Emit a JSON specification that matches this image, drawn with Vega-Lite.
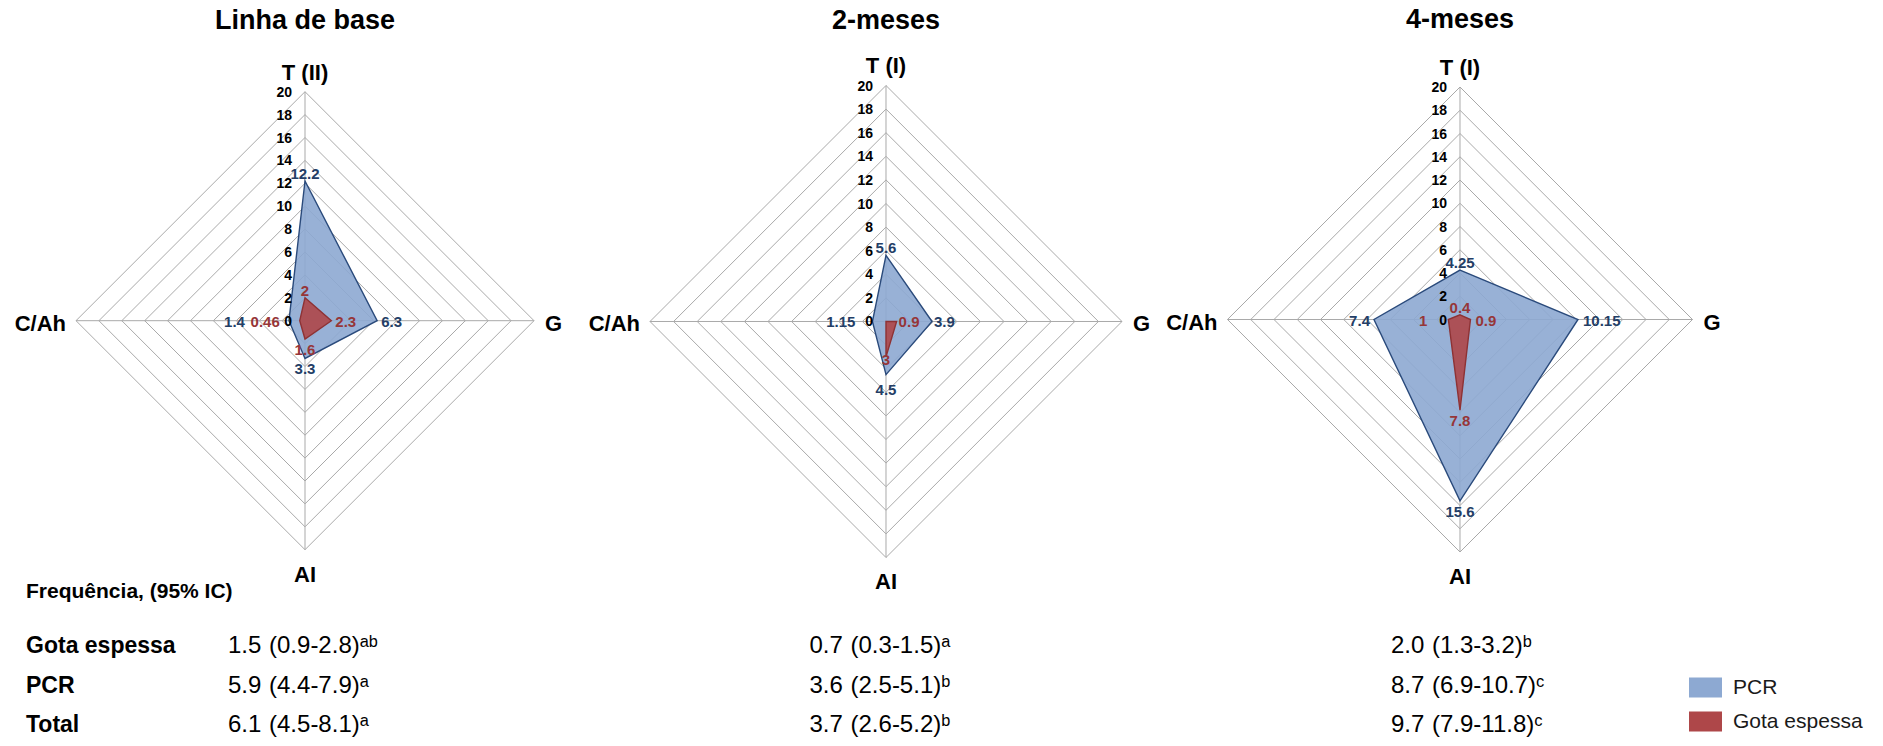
{
  "$schema": "https://vega.github.io/schema/vega-lite/v6.json",
  "width": 1883,
  "height": 746,
  "autosize": {"type": "fit", "contains": "padding"},
  "padding": 0,
  "background": "white",
  "config": {
    "view": {"stroke": null},
    "font": "Liberation Sans",
    "legend": {
      "orient": "none",
      "legendX": 1689,
      "legendY": 671,
      "symbolType": "M-1,-0.606H1V0.606H-1Z",
      "symbolSize": 1089,
      "symbolStrokeWidth": 0,
      "symbolOpacity": 1,
      "labelFontSize": 21,
      "labelColor": "#1a1a1a",
      "labelOffset": 11,
      "rowPadding": 7,
      "padding": 0
    }
  },
  "datasets": {
    "grid": [
      {"ax": "T", "v": [0, 2, 4, 6, 8, 10, 12, 14, 16, 18, 20]},
      {"ax": "G", "v": [0, 2, 4, 6, 8, 10, 12, 14, 16, 18, 20]},
      {"ax": "AI", "v": [0, 2, 4, 6, 8, 10, 12, 14, 16, 18, 20]},
      {"ax": "C/Ah", "v": [0, 2, 4, 6, 8, 10, 12, 14, 16, 18, 20]}
    ],
    "radar": [
      {"panel": "Linha de base", "series": "PCR", "ax": "T", "v": 12.2},
      {"panel": "Linha de base", "series": "PCR", "ax": "G", "v": 6.3},
      {"panel": "Linha de base", "series": "PCR", "ax": "AI", "v": 3.3},
      {"panel": "Linha de base", "series": "PCR", "ax": "C/Ah", "v": 1.4},
      {"panel": "Linha de base", "series": "Gota espessa", "ax": "T", "v": 2},
      {"panel": "Linha de base", "series": "Gota espessa", "ax": "G", "v": 2.3},
      {"panel": "Linha de base", "series": "Gota espessa", "ax": "AI", "v": 1.6},
      {"panel": "Linha de base", "series": "Gota espessa", "ax": "C/Ah", "v": 0.46},
      {"panel": "2-meses", "series": "PCR", "ax": "T", "v": 5.6},
      {"panel": "2-meses", "series": "PCR", "ax": "G", "v": 3.9},
      {"panel": "2-meses", "series": "PCR", "ax": "AI", "v": 4.5},
      {"panel": "2-meses", "series": "PCR", "ax": "C/Ah", "v": 1.15},
      {"panel": "2-meses", "series": "Gota espessa", "ax": "T", "v": 0},
      {"panel": "2-meses", "series": "Gota espessa", "ax": "G", "v": 0.9},
      {"panel": "2-meses", "series": "Gota espessa", "ax": "AI", "v": 3},
      {"panel": "2-meses", "series": "Gota espessa", "ax": "C/Ah", "v": 0},
      {"panel": "4-meses", "series": "PCR", "ax": "T", "v": 4.25},
      {"panel": "4-meses", "series": "PCR", "ax": "G", "v": 10.15},
      {"panel": "4-meses", "series": "PCR", "ax": "AI", "v": 15.6},
      {"panel": "4-meses", "series": "PCR", "ax": "C/Ah", "v": 7.4},
      {"panel": "4-meses", "series": "Gota espessa", "ax": "T", "v": 0.4},
      {"panel": "4-meses", "series": "Gota espessa", "ax": "G", "v": 0.9},
      {"panel": "4-meses", "series": "Gota espessa", "ax": "AI", "v": 7.8},
      {"panel": "4-meses", "series": "Gota espessa", "ax": "C/Ah", "v": 1}
    ],
    "axisNames": [
      {"panel": "Linha de base", "ax": "T", "name": "T (II)"},
      {"panel": "Linha de base", "ax": "G", "name": "G"},
      {"panel": "Linha de base", "ax": "AI", "name": "AI"},
      {"panel": "Linha de base", "ax": "C/Ah", "name": "C/Ah"},
      {"panel": "2-meses", "ax": "T", "name": "T (I)"},
      {"panel": "2-meses", "ax": "G", "name": "G"},
      {"panel": "2-meses", "ax": "AI", "name": "AI"},
      {"panel": "2-meses", "ax": "C/Ah", "name": "C/Ah"},
      {"panel": "4-meses", "ax": "T", "name": "T (I)"},
      {"panel": "4-meses", "ax": "G", "name": "G"},
      {"panel": "4-meses", "ax": "AI", "name": "AI"},
      {"panel": "4-meses", "ax": "C/Ah", "name": "C/Ah"}
    ],
    "titles": [
      {"panel": "Linha de base"},
      {"panel": "2-meses"},
      {"panel": "4-meses"}
    ],
    "stats": [
      {"period": "Linha de base", "row": "Gota espessa", "est": 1.5, "lo": 0.9, "hi": 2.8, "sup": "ab"},
      {"period": "Linha de base", "row": "PCR", "est": 5.9, "lo": 4.4, "hi": 7.9, "sup": "a"},
      {"period": "Linha de base", "row": "Total", "est": 6.1, "lo": 4.5, "hi": 8.1, "sup": "a"},
      {"period": "2-meses", "row": "Gota espessa", "est": 0.7, "lo": 0.3, "hi": 1.5, "sup": "a"},
      {"period": "2-meses", "row": "PCR", "est": 3.6, "lo": 2.5, "hi": 5.1, "sup": "b"},
      {"period": "2-meses", "row": "Total", "est": 3.7, "lo": 2.6, "hi": 5.2, "sup": "b"},
      {"period": "4-meses", "row": "Gota espessa", "est": 2.0, "lo": 1.3, "hi": 3.2, "sup": "b"},
      {"period": "4-meses", "row": "PCR", "est": 8.7, "lo": 6.9, "hi": 10.7, "sup": "c"},
      {"period": "4-meses", "row": "Total", "est": 9.7, "lo": 7.9, "hi": 11.8, "sup": "c"}
    ]
  },
  "resolve": {"scale": {"x": "independent", "y": "independent"}},
  "layer": [
    {
      "encoding": {
        "x": {"field": "x", "type": "quantitative", "scale": {"domain": [-26.638, 137.817], "nice": false, "zero": false}, "axis": null},
        "y": {"field": "y", "type": "quantitative", "scale": {"domain": [-37.144, 28.009], "nice": false, "zero": false}, "axis": null}
      },
      "layer": [
        {
          "data": {"name": "grid"},
          "transform": [
            {"flatten": ["v"]},
            {"filter": "datum.v > 0"},
            {"calculate": "datum.ax === 'G' ? datum.v : datum.ax === 'C/Ah' ? -datum.v : 0", "as": "x"},
            {"calculate": "datum.ax === 'T' ? datum.v : datum.ax === 'AI' ? -datum.v : 0", "as": "y"}
          ],
          "mark": {"type": "line", "interpolate": "linear-closed", "stroke": "#A9A9A9", "strokeWidth": 1},
          "encoding": {"detail": {"field": "v", "type": "quantitative"}, "order": {"value": null}}
        },
        {
          "data": {"name": "grid"},
          "transform": [
            {"flatten": ["v"]},
            {"filter": "datum.v === 20"},
            {"calculate": "datum.ax === 'G' ? datum.v : datum.ax === 'C/Ah' ? -datum.v : 0", "as": "x"},
            {"calculate": "datum.ax === 'T' ? datum.v : datum.ax === 'AI' ? -datum.v : 0", "as": "y"}
          ],
          "mark": {"type": "rule", "stroke": "#A9A9A9", "strokeWidth": 1},
          "encoding": {"x2": {"datum": 0}, "y2": {"datum": 0}}
        },
        {
          "data": {"name": "radar"},
          "transform": [
            {"filter": "datum.panel === 'Linha de base' && datum.series === 'PCR'"},
            {"calculate": "datum.ax === 'G' ? datum.v : datum.ax === 'C/Ah' ? -datum.v : 0", "as": "x"},
            {"calculate": "datum.ax === 'T' ? datum.v : datum.ax === 'AI' ? -datum.v : 0", "as": "y"}
          ],
          "mark": {"type": "line", "interpolate": "linear-closed", "filled": true, "fillOpacity": 0.9, "strokeWidth": 1.4},
          "encoding": {
            "color": {"field": "series", "type": "nominal", "scale": {"domain": ["PCR", "Gota espessa"], "range": ["#8DA9D2", "#AE4749"]}, "legend": {"title": null}},
            "stroke": {"field": "series", "type": "nominal", "scale": {"domain": ["PCR", "Gota espessa"], "range": ["#2A4A7B", "#8E3234"]}, "legend": null},
            "order": {"value": null}
          }
        },
        {
          "data": {"name": "radar"},
          "transform": [
            {"filter": "datum.panel === 'Linha de base' && datum.series === 'Gota espessa'"},
            {"calculate": "datum.ax === 'G' ? datum.v : datum.ax === 'C/Ah' ? -datum.v : 0", "as": "x"},
            {"calculate": "datum.ax === 'T' ? datum.v : datum.ax === 'AI' ? -datum.v : 0", "as": "y"}
          ],
          "mark": {"type": "line", "interpolate": "linear-closed", "filled": true, "fillOpacity": 0.9, "strokeWidth": 1.4},
          "encoding": {
            "color": {"field": "series", "type": "nominal", "scale": {"domain": ["PCR", "Gota espessa"], "range": ["#8DA9D2", "#AE4749"]}, "legend": {"title": null}},
            "stroke": {"field": "series", "type": "nominal", "scale": {"domain": ["PCR", "Gota espessa"], "range": ["#2A4A7B", "#8E3234"]}, "legend": null},
            "order": {"value": null}
          }
        },
        {
          "data": {"name": "grid"},
          "transform": [
            {"flatten": ["v"]},
            {"filter": "datum.ax === 'T'"},
            {"calculate": "0", "as": "x"},
            {"calculate": "datum.v", "as": "y"}
          ],
          "mark": {"type": "text", "align": "right", "baseline": "middle", "dx": -13, "dy": 1, "fontSize": 14, "fontWeight": "bold", "fill": "#000000"},
          "encoding": {"text": {"field": "v", "type": "quantitative"}}
        },
        {
          "data": {"name": "radar"},
          "transform": [
            {"filter": "datum.panel === 'Linha de base' && datum.ax === 'T' && datum.v > 0"},
            {"calculate": "0", "as": "x"},
            {"calculate": "datum.v", "as": "y"}
          ],
          "mark": {"type": "text", "align": "center", "baseline": "alphabetic", "dy": -2, "fontSize": 15, "fontWeight": "bold"},
          "encoding": {
            "text": {"field": "v", "type": "quantitative"},
            "fill": {"field": "series", "type": "nominal", "scale": {"domain": ["PCR", "Gota espessa"], "range": ["#243E66", "#963638"]}, "legend": null}
          }
        },
        {
          "data": {"name": "radar"},
          "transform": [
            {"filter": "datum.panel === 'Linha de base' && datum.ax === 'G' && datum.v > 0"},
            {"calculate": "datum.v", "as": "x"},
            {"calculate": "0", "as": "y"}
          ],
          "mark": {"type": "text", "align": "left", "baseline": "middle", "dx": 4, "dy": 1, "fontSize": 15, "fontWeight": "bold"},
          "encoding": {
            "text": {"field": "v", "type": "quantitative"},
            "fill": {"field": "series", "type": "nominal", "scale": {"domain": ["PCR", "Gota espessa"], "range": ["#243E66", "#963638"]}, "legend": null}
          }
        },
        {
          "data": {"name": "radar"},
          "transform": [
            {"filter": "datum.panel === 'Linha de base' && datum.ax === 'AI' && datum.v > 0"},
            {"calculate": "0", "as": "x"},
            {"calculate": "-datum.v", "as": "y"}
          ],
          "mark": {"type": "text", "align": "center", "baseline": "top", "dy": 4, "fontSize": 15, "fontWeight": "bold"},
          "encoding": {
            "text": {"field": "v", "type": "quantitative"},
            "fill": {"field": "series", "type": "nominal", "scale": {"domain": ["PCR", "Gota espessa"], "range": ["#243E66", "#963638"]}, "legend": null}
          }
        },
        {
          "data": {"name": "radar"},
          "transform": [
            {"filter": "datum.panel === 'Linha de base' && datum.ax === 'C/Ah' && datum.series === 'PCR' && datum.v > 0"},
            {"calculate": "-datum.v", "as": "x"},
            {"calculate": "0", "as": "y"}
          ],
          "mark": {"type": "text", "align": "right", "baseline": "middle", "dx": -44, "dy": 1, "fontSize": 15, "fontWeight": "bold", "fill": "#243E66"},
          "encoding": {"text": {"field": "v", "type": "quantitative"}}
        },
        {
          "data": {"name": "radar"},
          "transform": [
            {"filter": "datum.panel === 'Linha de base' && datum.ax === 'C/Ah' && datum.series === 'Gota espessa' && datum.v > 0"},
            {"calculate": "-datum.v", "as": "x"},
            {"calculate": "0", "as": "y"}
          ],
          "mark": {"type": "text", "align": "right", "baseline": "middle", "dx": -20, "dy": 1, "fontSize": 15, "fontWeight": "bold", "fill": "#963638"},
          "encoding": {"text": {"field": "v", "type": "quantitative"}}
        },
        {
          "data": {"name": "axisNames"},
          "transform": [{"filter": "datum.panel === 'Linha de base' && datum.ax === 'T'"}, {"calculate": "0", "as": "x"}, {"calculate": "20", "as": "y"}],
          "mark": {"type": "text", "align": "center", "baseline": "alphabetic", "dy": -12, "fontSize": 22, "fontWeight": "bold", "fill": "#000000"},
          "encoding": {"text": {"field": "name"}}
        },
        {
          "data": {"name": "axisNames"},
          "transform": [{"filter": "datum.panel === 'Linha de base' && datum.ax === 'G'"}, {"calculate": "20", "as": "x"}, {"calculate": "0", "as": "y"}],
          "mark": {"type": "text", "align": "left", "baseline": "middle", "dx": 11, "dy": 3, "fontSize": 22, "fontWeight": "bold", "fill": "#000000"},
          "encoding": {"text": {"field": "name"}}
        },
        {
          "data": {"name": "axisNames"},
          "transform": [{"filter": "datum.panel === 'Linha de base' && datum.ax === 'AI'"}, {"calculate": "0", "as": "x"}, {"calculate": "-20", "as": "y"}],
          "mark": {"type": "text", "align": "center", "baseline": "alphabetic", "dy": 32, "fontSize": 22, "fontWeight": "bold", "fill": "#000000"},
          "encoding": {"text": {"field": "name"}}
        },
        {
          "data": {"name": "axisNames"},
          "transform": [{"filter": "datum.panel === 'Linha de base' && datum.ax === 'C/Ah'"}, {"calculate": "-20", "as": "x"}, {"calculate": "0", "as": "y"}],
          "mark": {"type": "text", "align": "right", "baseline": "middle", "dx": -10, "dy": 3, "fontSize": 22, "fontWeight": "bold", "fill": "#000000"},
          "encoding": {"text": {"field": "name"}}
        },
        {
          "data": {"name": "titles"},
          "transform": [{"filter": "datum.panel === 'Linha de base'"}, {"calculate": "0", "as": "x"}, {"calculate": "20", "as": "y"}],
          "mark": {"type": "text", "align": "center", "baseline": "alphabetic", "dy": -63, "fontSize": 27, "fontWeight": "bold", "fill": "#000000"},
          "encoding": {"text": {"field": "panel"}}
        }
      ]
    },
    {
      "encoding": {
        "x": {"field": "x", "type": "quantitative", "scale": {"domain": [-75.085, 84.492], "nice": false, "zero": false}, "axis": null},
        "y": {"field": "y", "type": "quantitative", "scale": {"domain": [-35.975, 27.246], "nice": false, "zero": false}, "axis": null}
      },
      "layer": [
        {
          "data": {"name": "grid"},
          "transform": [
            {"flatten": ["v"]},
            {"filter": "datum.v > 0"},
            {"calculate": "datum.ax === 'G' ? datum.v : datum.ax === 'C/Ah' ? -datum.v : 0", "as": "x"},
            {"calculate": "datum.ax === 'T' ? datum.v : datum.ax === 'AI' ? -datum.v : 0", "as": "y"}
          ],
          "mark": {"type": "line", "interpolate": "linear-closed", "stroke": "#A9A9A9", "strokeWidth": 1},
          "encoding": {"detail": {"field": "v", "type": "quantitative"}, "order": {"value": null}}
        },
        {
          "data": {"name": "grid"},
          "transform": [
            {"flatten": ["v"]},
            {"filter": "datum.v === 20"},
            {"calculate": "datum.ax === 'G' ? datum.v : datum.ax === 'C/Ah' ? -datum.v : 0", "as": "x"},
            {"calculate": "datum.ax === 'T' ? datum.v : datum.ax === 'AI' ? -datum.v : 0", "as": "y"}
          ],
          "mark": {"type": "rule", "stroke": "#A9A9A9", "strokeWidth": 1},
          "encoding": {"x2": {"datum": 0}, "y2": {"datum": 0}}
        },
        {
          "data": {"name": "radar"},
          "transform": [
            {"filter": "datum.panel === '2-meses' && datum.series === 'PCR'"},
            {"calculate": "datum.ax === 'G' ? datum.v : datum.ax === 'C/Ah' ? -datum.v : 0", "as": "x"},
            {"calculate": "datum.ax === 'T' ? datum.v : datum.ax === 'AI' ? -datum.v : 0", "as": "y"}
          ],
          "mark": {"type": "line", "interpolate": "linear-closed", "filled": true, "fillOpacity": 0.9, "strokeWidth": 1.4},
          "encoding": {
            "color": {"field": "series", "type": "nominal", "scale": {"domain": ["PCR", "Gota espessa"], "range": ["#8DA9D2", "#AE4749"]}, "legend": {"title": null}},
            "stroke": {"field": "series", "type": "nominal", "scale": {"domain": ["PCR", "Gota espessa"], "range": ["#2A4A7B", "#8E3234"]}, "legend": null},
            "order": {"value": null}
          }
        },
        {
          "data": {"name": "radar"},
          "transform": [
            {"filter": "datum.panel === '2-meses' && datum.series === 'Gota espessa'"},
            {"calculate": "datum.ax === 'G' ? datum.v : datum.ax === 'C/Ah' ? -datum.v : 0", "as": "x"},
            {"calculate": "datum.ax === 'T' ? datum.v : datum.ax === 'AI' ? -datum.v : 0", "as": "y"}
          ],
          "mark": {"type": "line", "interpolate": "linear-closed", "filled": true, "fillOpacity": 0.9, "strokeWidth": 1.4},
          "encoding": {
            "color": {"field": "series", "type": "nominal", "scale": {"domain": ["PCR", "Gota espessa"], "range": ["#8DA9D2", "#AE4749"]}, "legend": {"title": null}},
            "stroke": {"field": "series", "type": "nominal", "scale": {"domain": ["PCR", "Gota espessa"], "range": ["#2A4A7B", "#8E3234"]}, "legend": null},
            "order": {"value": null}
          }
        },
        {
          "data": {"name": "grid"},
          "transform": [
            {"flatten": ["v"]},
            {"filter": "datum.ax === 'T'"},
            {"calculate": "0", "as": "x"},
            {"calculate": "datum.v", "as": "y"}
          ],
          "mark": {"type": "text", "align": "right", "baseline": "middle", "dx": -13, "dy": 1, "fontSize": 14, "fontWeight": "bold", "fill": "#000000"},
          "encoding": {"text": {"field": "v", "type": "quantitative"}}
        },
        {
          "data": {"name": "radar"},
          "transform": [
            {"filter": "datum.panel === '2-meses' && datum.ax === 'T' && datum.v > 0"},
            {"calculate": "0", "as": "x"},
            {"calculate": "datum.v", "as": "y"}
          ],
          "mark": {"type": "text", "align": "center", "baseline": "alphabetic", "dy": -2, "fontSize": 15, "fontWeight": "bold"},
          "encoding": {
            "text": {"field": "v", "type": "quantitative"},
            "fill": {"field": "series", "type": "nominal", "scale": {"domain": ["PCR", "Gota espessa"], "range": ["#243E66", "#963638"]}, "legend": null}
          }
        },
        {
          "data": {"name": "radar"},
          "transform": [
            {"filter": "datum.panel === '2-meses' && datum.ax === 'G' && datum.v > 0"},
            {"calculate": "datum.v", "as": "x"},
            {"calculate": "0", "as": "y"}
          ],
          "mark": {"type": "text", "align": "left", "baseline": "middle", "dx": 2, "dy": 1, "fontSize": 15, "fontWeight": "bold"},
          "encoding": {
            "text": {"field": "v", "type": "quantitative"},
            "fill": {"field": "series", "type": "nominal", "scale": {"domain": ["PCR", "Gota espessa"], "range": ["#243E66", "#963638"]}, "legend": null}
          }
        },
        {
          "data": {"name": "radar"},
          "transform": [
            {"filter": "datum.panel === '2-meses' && datum.ax === 'AI' && datum.series === 'PCR' && datum.v > 0"},
            {"calculate": "0", "as": "x"},
            {"calculate": "-datum.v", "as": "y"}
          ],
          "mark": {"type": "text", "align": "center", "baseline": "top", "dy": 8, "fontSize": 15, "fontWeight": "bold", "fill": "#243E66"},
          "encoding": {"text": {"field": "v", "type": "quantitative"}}
        },
        {
          "data": {"name": "radar"},
          "transform": [
            {"filter": "datum.panel === '2-meses' && datum.ax === 'AI' && datum.series === 'Gota espessa' && datum.v > 0"},
            {"calculate": "0", "as": "x"},
            {"calculate": "-datum.v", "as": "y"}
          ],
          "mark": {"type": "text", "align": "center", "baseline": "top", "dy": -4, "fontSize": 15, "fontWeight": "bold", "fill": "#963638"},
          "encoding": {"text": {"field": "v", "type": "quantitative"}}
        },
        {
          "data": {"name": "radar"},
          "transform": [
            {"filter": "datum.panel === '2-meses' && datum.ax === 'C/Ah' && datum.v > 0"},
            {"calculate": "-datum.v", "as": "x"},
            {"calculate": "0", "as": "y"}
          ],
          "mark": {"type": "text", "align": "right", "baseline": "middle", "dx": -17, "dy": 1, "fontSize": 15, "fontWeight": "bold"},
          "encoding": {
            "text": {"field": "v", "type": "quantitative"},
            "fill": {"field": "series", "type": "nominal", "scale": {"domain": ["PCR", "Gota espessa"], "range": ["#243E66", "#963638"]}, "legend": null}
          }
        },
        {
          "data": {"name": "axisNames"},
          "transform": [{"filter": "datum.panel === '2-meses' && datum.ax === 'T'"}, {"calculate": "0", "as": "x"}, {"calculate": "20", "as": "y"}],
          "mark": {"type": "text", "align": "center", "baseline": "alphabetic", "dy": -13, "fontSize": 22, "fontWeight": "bold", "fill": "#000000"},
          "encoding": {"text": {"field": "name"}}
        },
        {
          "data": {"name": "axisNames"},
          "transform": [{"filter": "datum.panel === '2-meses' && datum.ax === 'G'"}, {"calculate": "20", "as": "x"}, {"calculate": "0", "as": "y"}],
          "mark": {"type": "text", "align": "left", "baseline": "middle", "dx": 11, "dy": 3, "fontSize": 22, "fontWeight": "bold", "fill": "#000000"},
          "encoding": {"text": {"field": "name"}}
        },
        {
          "data": {"name": "axisNames"},
          "transform": [{"filter": "datum.panel === '2-meses' && datum.ax === 'AI'"}, {"calculate": "0", "as": "x"}, {"calculate": "-20", "as": "y"}],
          "mark": {"type": "text", "align": "center", "baseline": "alphabetic", "dy": 32, "fontSize": 22, "fontWeight": "bold", "fill": "#000000"},
          "encoding": {"text": {"field": "name"}}
        },
        {
          "data": {"name": "axisNames"},
          "transform": [{"filter": "datum.panel === '2-meses' && datum.ax === 'C/Ah'"}, {"calculate": "-20", "as": "x"}, {"calculate": "0", "as": "y"}],
          "mark": {"type": "text", "align": "right", "baseline": "middle", "dx": -10, "dy": 3, "fontSize": 22, "fontWeight": "bold", "fill": "#000000"},
          "encoding": {"text": {"field": "name"}}
        },
        {
          "data": {"name": "titles"},
          "transform": [{"filter": "datum.panel === '2-meses'"}, {"calculate": "0", "as": "x"}, {"calculate": "20", "as": "y"}],
          "mark": {"type": "text", "align": "center", "baseline": "alphabetic", "dy": -57, "fontSize": 27, "fontWeight": "bold", "fill": "#000000"},
          "encoding": {"text": {"field": "panel"}}
        }
      ]
    },
    {
      "encoding": {
        "x": {"field": "x", "type": "quantitative", "scale": {"domain": [-125.591, 36.387], "nice": false, "zero": false}, "axis": null},
        "y": {"field": "y", "type": "quantitative", "scale": {"domain": [-36.688, 27.484], "nice": false, "zero": false}, "axis": null}
      },
      "layer": [
        {
          "data": {"name": "grid"},
          "transform": [
            {"flatten": ["v"]},
            {"filter": "datum.v > 0"},
            {"calculate": "datum.ax === 'G' ? datum.v : datum.ax === 'C/Ah' ? -datum.v : 0", "as": "x"},
            {"calculate": "datum.ax === 'T' ? datum.v : datum.ax === 'AI' ? -datum.v : 0", "as": "y"}
          ],
          "mark": {"type": "line", "interpolate": "linear-closed", "stroke": "#A9A9A9", "strokeWidth": 1},
          "encoding": {"detail": {"field": "v", "type": "quantitative"}, "order": {"value": null}}
        },
        {
          "data": {"name": "grid"},
          "transform": [
            {"flatten": ["v"]},
            {"filter": "datum.v === 20"},
            {"calculate": "datum.ax === 'G' ? datum.v : datum.ax === 'C/Ah' ? -datum.v : 0", "as": "x"},
            {"calculate": "datum.ax === 'T' ? datum.v : datum.ax === 'AI' ? -datum.v : 0", "as": "y"}
          ],
          "mark": {"type": "rule", "stroke": "#A9A9A9", "strokeWidth": 1},
          "encoding": {"x2": {"datum": 0}, "y2": {"datum": 0}}
        },
        {
          "data": {"name": "radar"},
          "transform": [
            {"filter": "datum.panel === '4-meses' && datum.series === 'PCR'"},
            {"calculate": "datum.ax === 'G' ? datum.v : datum.ax === 'C/Ah' ? -datum.v : 0", "as": "x"},
            {"calculate": "datum.ax === 'T' ? datum.v : datum.ax === 'AI' ? -datum.v : 0", "as": "y"}
          ],
          "mark": {"type": "line", "interpolate": "linear-closed", "filled": true, "fillOpacity": 0.9, "strokeWidth": 1.4},
          "encoding": {
            "color": {"field": "series", "type": "nominal", "scale": {"domain": ["PCR", "Gota espessa"], "range": ["#8DA9D2", "#AE4749"]}, "legend": {"title": null}},
            "stroke": {"field": "series", "type": "nominal", "scale": {"domain": ["PCR", "Gota espessa"], "range": ["#2A4A7B", "#8E3234"]}, "legend": null},
            "order": {"value": null}
          }
        },
        {
          "data": {"name": "radar"},
          "transform": [
            {"filter": "datum.panel === '4-meses' && datum.series === 'Gota espessa'"},
            {"calculate": "datum.ax === 'G' ? datum.v : datum.ax === 'C/Ah' ? -datum.v : 0", "as": "x"},
            {"calculate": "datum.ax === 'T' ? datum.v : datum.ax === 'AI' ? -datum.v : 0", "as": "y"}
          ],
          "mark": {"type": "line", "interpolate": "linear-closed", "filled": true, "fillOpacity": 0.9, "strokeWidth": 1.4},
          "encoding": {
            "color": {"field": "series", "type": "nominal", "scale": {"domain": ["PCR", "Gota espessa"], "range": ["#8DA9D2", "#AE4749"]}, "legend": {"title": null}},
            "stroke": {"field": "series", "type": "nominal", "scale": {"domain": ["PCR", "Gota espessa"], "range": ["#2A4A7B", "#8E3234"]}, "legend": null},
            "order": {"value": null}
          }
        },
        {
          "data": {"name": "grid"},
          "transform": [
            {"flatten": ["v"]},
            {"filter": "datum.ax === 'T'"},
            {"calculate": "0", "as": "x"},
            {"calculate": "datum.v", "as": "y"}
          ],
          "mark": {"type": "text", "align": "right", "baseline": "middle", "dx": -13, "dy": 1, "fontSize": 14, "fontWeight": "bold", "fill": "#000000"},
          "encoding": {"text": {"field": "v", "type": "quantitative"}}
        },
        {
          "data": {"name": "radar"},
          "transform": [
            {"filter": "datum.panel === '4-meses' && datum.ax === 'T' && datum.v > 0"},
            {"calculate": "0", "as": "x"},
            {"calculate": "datum.v", "as": "y"}
          ],
          "mark": {"type": "text", "align": "center", "baseline": "alphabetic", "dy": -2, "fontSize": 15, "fontWeight": "bold"},
          "encoding": {
            "text": {"field": "v", "type": "quantitative"},
            "fill": {"field": "series", "type": "nominal", "scale": {"domain": ["PCR", "Gota espessa"], "range": ["#243E66", "#963638"]}, "legend": null}
          }
        },
        {
          "data": {"name": "radar"},
          "transform": [
            {"filter": "datum.panel === '4-meses' && datum.ax === 'G' && datum.v > 0"},
            {"calculate": "datum.v", "as": "x"},
            {"calculate": "0", "as": "y"}
          ],
          "mark": {"type": "text", "align": "left", "baseline": "middle", "dx": 5, "dy": 1, "fontSize": 15, "fontWeight": "bold"},
          "encoding": {
            "text": {"field": "v", "type": "quantitative"},
            "fill": {"field": "series", "type": "nominal", "scale": {"domain": ["PCR", "Gota espessa"], "range": ["#243E66", "#963638"]}, "legend": null}
          }
        },
        {
          "data": {"name": "radar"},
          "transform": [
            {"filter": "datum.panel === '4-meses' && datum.ax === 'AI' && datum.v > 0"},
            {"calculate": "0", "as": "x"},
            {"calculate": "-datum.v", "as": "y"}
          ],
          "mark": {"type": "text", "align": "center", "baseline": "top", "dy": 4, "fontSize": 15, "fontWeight": "bold"},
          "encoding": {
            "text": {"field": "v", "type": "quantitative"},
            "fill": {"field": "series", "type": "nominal", "scale": {"domain": ["PCR", "Gota espessa"], "range": ["#243E66", "#963638"]}, "legend": null}
          }
        },
        {
          "data": {"name": "radar"},
          "transform": [
            {"filter": "datum.panel === '4-meses' && datum.ax === 'C/Ah' && datum.series === 'PCR' && datum.v > 0"},
            {"calculate": "-datum.v", "as": "x"},
            {"calculate": "0", "as": "y"}
          ],
          "mark": {"type": "text", "align": "right", "baseline": "middle", "dx": -4, "dy": 1, "fontSize": 15, "fontWeight": "bold", "fill": "#243E66"},
          "encoding": {"text": {"field": "v", "type": "quantitative"}}
        },
        {
          "data": {"name": "radar"},
          "transform": [
            {"filter": "datum.panel === '4-meses' && datum.ax === 'C/Ah' && datum.series === 'Gota espessa' && datum.v > 0"},
            {"calculate": "-datum.v", "as": "x"},
            {"calculate": "0", "as": "y"}
          ],
          "mark": {"type": "text", "align": "right", "baseline": "middle", "dx": -21, "dy": 1, "fontSize": 15, "fontWeight": "bold", "fill": "#963638"},
          "encoding": {"text": {"field": "v", "type": "quantitative"}}
        },
        {
          "data": {"name": "axisNames"},
          "transform": [{"filter": "datum.panel === '4-meses' && datum.ax === 'T'"}, {"calculate": "0", "as": "x"}, {"calculate": "20", "as": "y"}],
          "mark": {"type": "text", "align": "center", "baseline": "alphabetic", "dy": -12, "fontSize": 22, "fontWeight": "bold", "fill": "#000000"},
          "encoding": {"text": {"field": "name"}}
        },
        {
          "data": {"name": "axisNames"},
          "transform": [{"filter": "datum.panel === '4-meses' && datum.ax === 'G'"}, {"calculate": "20", "as": "x"}, {"calculate": "0", "as": "y"}],
          "mark": {"type": "text", "align": "left", "baseline": "middle", "dx": 11, "dy": 3, "fontSize": 22, "fontWeight": "bold", "fill": "#000000"},
          "encoding": {"text": {"field": "name"}}
        },
        {
          "data": {"name": "axisNames"},
          "transform": [{"filter": "datum.panel === '4-meses' && datum.ax === 'AI'"}, {"calculate": "0", "as": "x"}, {"calculate": "-20", "as": "y"}],
          "mark": {"type": "text", "align": "center", "baseline": "alphabetic", "dy": 32, "fontSize": 22, "fontWeight": "bold", "fill": "#000000"},
          "encoding": {"text": {"field": "name"}}
        },
        {
          "data": {"name": "axisNames"},
          "transform": [{"filter": "datum.panel === '4-meses' && datum.ax === 'C/Ah'"}, {"calculate": "-20", "as": "x"}, {"calculate": "0", "as": "y"}],
          "mark": {"type": "text", "align": "right", "baseline": "middle", "dx": -10, "dy": 3, "fontSize": 22, "fontWeight": "bold", "fill": "#000000"},
          "encoding": {"text": {"field": "name"}}
        },
        {
          "data": {"name": "titles"},
          "transform": [{"filter": "datum.panel === '4-meses'"}, {"calculate": "0", "as": "x"}, {"calculate": "20", "as": "y"}],
          "mark": {"type": "text", "align": "center", "baseline": "alphabetic", "dy": -59, "fontSize": 27, "fontWeight": "bold", "fill": "#000000"},
          "encoding": {"text": {"field": "panel"}}
        }
      ]
    },
    {
      "encoding": {
        "x": {"field": "period", "type": "nominal", "scale": {"type": "point", "domain": ["Linha de base", "2-meses", "4-meses"], "padding": 0.6191, "align": 0.3167}, "axis": null},
        "y": {"field": "row", "type": "nominal", "scale": {"type": "point", "domain": ["Gota espessa", "PCR", "Total"], "range": [646, 725], "padding": 0}, "axis": null}
      },
      "layer": [
        {
          "data": {"name": "stats"},
          "mark": {"type": "text", "align": "left", "baseline": "middle", "fontSize": 24, "fill": "#000000"},
          "encoding": {"text": {"field": "est", "type": "quantitative", "format": ".1f"}}
        },
        {
          "data": {"name": "stats"},
          "transform": [
            {"calculate": "'(' + format(datum.lo, '.1f') + '-' + format(datum.hi, '.1f') + ')' + replace(replace(replace(datum.sup, 'a', 'ᵃ'), 'b', 'ᵇ'), 'c', 'ᶜ')", "as": "ciText"}
          ],
          "mark": {"type": "text", "align": "left", "baseline": "middle", "dx": 41, "fontSize": 24, "fill": "#000000"},
          "encoding": {"text": {"field": "ciText"}}
        },
        {
          "data": {"name": "stats"},
          "transform": [{"filter": "datum.period === 'Linha de base'"}],
          "mark": {"type": "text", "align": "left", "baseline": "middle", "dx": -202, "fontSize": 23, "fontWeight": "bold", "fill": "#000000"},
          "encoding": {"text": {"field": "row"}}
        },
        {
          "data": {"values": [{"header": "Frequência, (95% IC)"}]},
          "mark": {"type": "text", "align": "left", "baseline": "middle", "dx": -202, "dy": -54, "fontSize": 21, "fontWeight": "bold", "fill": "#000000"},
          "encoding": {
            "x": {"datum": "Linha de base", "type": "nominal"},
            "y": {"datum": "Gota espessa", "type": "nominal"},
            "text": {"field": "header"}
          }
        }
      ]
    }
  ]
}
